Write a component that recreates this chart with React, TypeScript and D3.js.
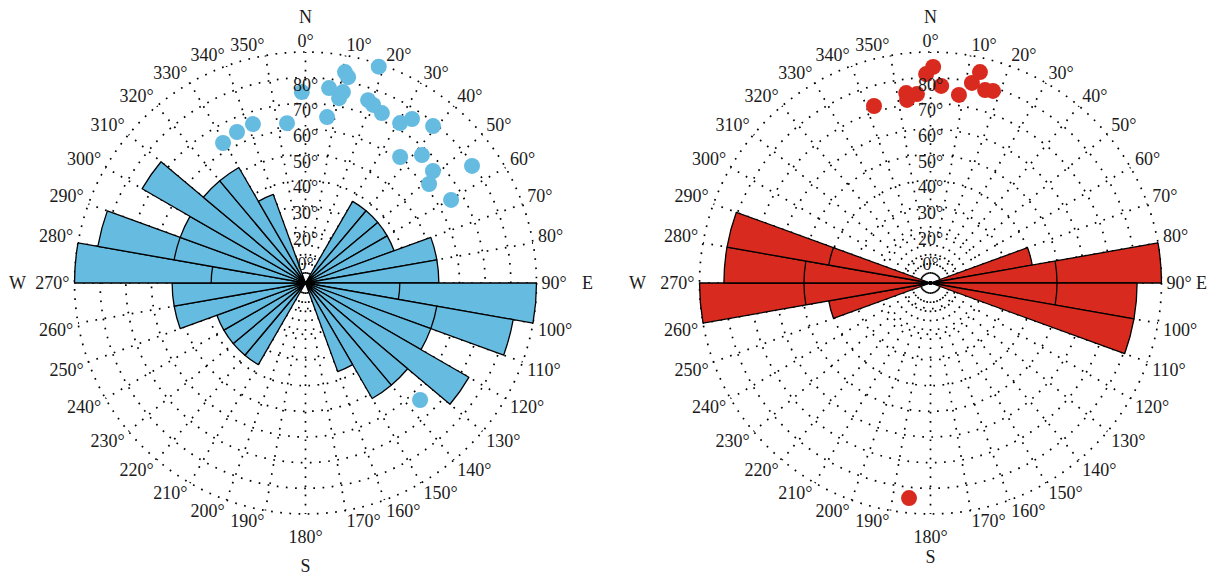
import React, { useEffect, useRef } from 'react'
import * as d3 from 'd3'

// page size and the radius of the outer (90°) circle
const W = 1215
const H = 575
const R = 231

// rose bins, 10° wide from N clockwise, 0-180 (drawn again through 180-360)
const leftBins = [0, 0, 0, 1, 1, 1, 1, 2, 2, 6, 5, 2, 4, 2, 2, 1, 0, 0]
const rightBins = [0, 0, 0, 0, 0, 0, 0, 1, 5, 4, 4, 0, 0, 0, 0, 0, 0, 0]

// inner boundary arcs inside some petals: [bin 0-35, value]
const leftInner = [[9, 1], [10, 2], [27, 1], [28, 2]]
const rightInner = [[8, 1.5], [9, 1.5], [26, 1.5], [27, 1.5], [28, 1]]

// poles: [azimuth, radial value in degrees]
const leftPoles = [
  [18.7, 89], [10.6, 83.6], [11.7, 81.9], [6.9, 76.5], [358.9, 74.4],
  [11.1, 75.8], [10.3, 73.2], [18.9, 75.3], [20.8, 74.2], [24.2, 72.6],
  [7.4, 65.2], [353.4, 62.7], [341.7, 65.2], [335.6, 64.6], [329.5, 63.3],
  [30.6, 72.4], [33.0, 76.2], [39.1, 78.8], [36.9, 61.4], [42.3, 67.4],
  [48.7, 66.1], [51.3, 61.7], [60.3, 65.3], [54.9, 79.3], [135.6, 63.8]
]
const rightPoles = [
  [0.7, 84.2], [358.8, 81.4], [3.1, 76.9], [352.7, 74.6], [355.9, 73.8],
  [352.7, 71.9], [8.6, 74.1], [11.7, 79.6], [13.2, 84.4], [15.8, 78.1],
  [18.0, 78.7], [342.3, 72.4], [185.7, 84.2]
]

// grid
const ringDips = [10, 20, 30, 40, 50, 60, 70, 80, 90]
const ringLabels = ['0°', '20°', '30°', '40°', '50°', '60°', '70°', '80°']
const azimuths = d3.range(0, 360, 10)
const cardinals = [['N', 0], ['E', 90], ['S', 180], ['W', 270]]

const rad = (deg) => (deg * Math.PI) / 180
const font = "'Liberation Serif', 'Times New Roman', serif"

function drawNet(svg, cx, cy, bins, inner, poles, colour, cardDist) {
  const g = svg.append('g').attr('transform', `translate(${cx},${cy})`)
  const dipScale = d3.scaleLinear().domain([0, 90]).range([0, R])
  const roseScale = d3.scaleSqrt().domain([0, d3.max(bins)]).range([0, R])

  // dotted rings and spokes
  g.selectAll('.ring').data(ringDips).enter().append('circle')
    .attr('r', (d) => dipScale(d))
    .attr('fill', 'none')
    .attr('stroke', '#000')
    .attr('stroke-width', 1.7)
    .attr('stroke-dasharray', '1.7 7.5')
  g.selectAll('.spoke').data(azimuths).enter().append('line')
    .attr('x1', 0).attr('y1', 0)
    .attr('x2', (d) => R * Math.sin(rad(d)))
    .attr('y2', (d) => -R * Math.cos(rad(d)))
    .attr('stroke', '#000')
    .attr('stroke-width', 1.7)
    .attr('stroke-dasharray', '1.7 7.5')

  // rose petals, both directions
  const petals = []
  bins.forEach((v, i) => {
    if (v > 0) {
      petals.push({ a: i * 10, v })
      petals.push({ a: i * 10 + 180, v })
    }
  })
  const arc = d3.arc()
  g.selectAll('.petal').data(petals).enter().append('path')
    .attr('d', (d) => arc({ innerRadius: 0, outerRadius: roseScale(d.v), startAngle: rad(d.a), endAngle: rad(d.a + 10) }))
    .attr('fill', colour)
    .attr('stroke', '#000')
    .attr('stroke-width', 1.3)
    .attr('stroke-linejoin', 'round')
  g.selectAll('.inner').data(inner).enter().append('path')
    .attr('d', (d) => {
      const p = d3.path()
      const r = roseScale(d[1])
      const a0 = rad(d[0] * 10) - Math.PI / 2
      const a1 = rad(d[0] * 10 + 10) - Math.PI / 2
      p.moveTo(r * Math.cos(a0), r * Math.sin(a0))
      p.arc(0, 0, r, a0, a1)
      return p.toString()
    })
    .attr('fill', 'none')
    .attr('stroke', '#000')
    .attr('stroke-width', 1.3)

  // poles
  g.selectAll('.pole').data(poles).enter().append('circle')
    .attr('cx', (d) => dipScale(d[1]) * Math.sin(rad(d[0])))
    .attr('cy', (d) => -dipScale(d[1]) * Math.cos(rad(d[0])))
    .attr('r', 8)
    .attr('fill', colour)

  // dip labels up the north spoke
  g.selectAll('.ringlab').data(ringLabels).enter().append('text')
    .attr('x', 0)
    .attr('y', (d, i) => -dipScale(ringDips[i]) + 7)
    .attr('text-anchor', 'middle')
    .attr('dominant-baseline', 'central')
    .attr('font-family', font)
    .attr('font-size', 18)
    .attr('fill', '#1a1a1a')
    .text((d) => d)

  // azimuth labels, anchored on the side away from the centre
  const LR = 236
  g.selectAll('.azlab').data(azimuths).enter().append('text')
    .attr('x', (d) => LR * Math.sin(rad(d)))
    .attr('y', (d) => {
      const c = Math.cos(rad(d))
      let off = Math.abs(c) < 1e-6 ? 0 : c > 0 ? -6 : 6
      if (d === 180) off = 18
      return -LR * c + off
    })
    .attr('text-anchor', (d) => {
      const s = Math.sin(rad(d))
      return Math.abs(s) < 1e-6 ? 'middle' : s > 0 ? 'start' : 'end'
    })
    .attr('dominant-baseline', 'central')
    .attr('font-family', font)
    .attr('font-size', 18)
    .attr('fill', '#1a1a1a')
    .text((d) => d + '°')
  g.selectAll('.card').data(cardinals).enter().append('text')
    .attr('x', (d, i) => cardDist[i] * Math.sin(rad(d[1])))
    .attr('y', (d, i) => -cardDist[i] * Math.cos(rad(d[1])))
    .attr('text-anchor', 'middle')
    .attr('dominant-baseline', 'central')
    .attr('font-family', font)
    .attr('font-size', 18)
    .attr('fill', '#1a1a1a')
    .text((d) => d[0])
}

export default function App() {
  const ref = useRef(null)

  useEffect(() => {
    const svg = d3.select(ref.current)
    svg.selectAll('*').remove()
    drawNet(svg, 305.5, 283, leftBins, leftInner, leftPoles, '#66bbe1', [266, 282, 283, 288])
    drawNet(svg, 930.5, 283, rightBins, rightInner, rightPoles, '#d82a1e', [266, 271, 274, 293])
  }, [])

  return (
    <svg
      ref={ref}
      width={W}
      height={H}
      style={{ position: 'absolute', left: 0, top: 0, background: '#fff' }}
    />
  )
}
